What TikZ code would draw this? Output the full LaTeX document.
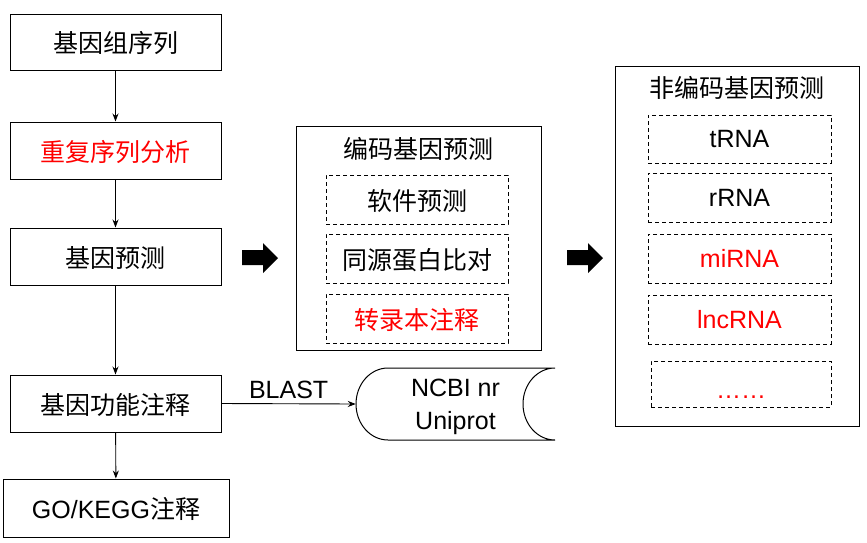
\documentclass[tikz,border=0pt]{standalone}
\usepackage{fontspec}
\usetikzlibrary{arrows.meta}
\setmainfont{Liberation Sans}
\newfontfamily\cjk{Noto Sans CJK SC}
\begin{document}
\begin{tikzpicture}[x=1pt,y=1pt,
  base/.style={font=\fontsize{25}{29}\selectfont, inner sep=0pt, text depth=0pt},
  solidbox/.style={base, draw, line width=1pt},
  dashbox/.style={base, draw, line width=1pt, dash pattern=on 4pt off 3pt},
  flow/.style={-{Stealth[length=8pt,width=6pt]}, line width=0.9pt},
  bigarrow/.style={fill=black}]
\useasboundingbox (0,0) rectangle (867,-542);
% left column
\node[solidbox, minimum width=211pt, minimum height=56pt] (g1) at (115.5,-42) {\cjk 基因组序列};
\node[solidbox, minimum width=211pt, minimum height=57pt, text=red] (g2) at (115.5,-150.5) {\cjk 重复序列分析};
\node[solidbox, minimum width=211pt, minimum height=57pt] (g3) at (115.5,-256.5) {\cjk 基因预测};
\node[solidbox, minimum width=211pt, minimum height=57pt] (g4) at (115.5,-403.5) {\cjk 基因功能注释};
\node[solidbox, minimum width=226pt, minimum height=58pt] (g5) at (116,-508) {GO/KEGG{\cjk 注释}};
\draw[flow] (g1) -- (g2);
\draw[flow] (g2) -- (g3);
\draw[flow] (g3) -- (g4);
\draw[flow] (g4) -- (g5);
% coding box
\node[draw, line width=1pt, minimum width=245pt, minimum height=224pt, inner sep=0pt] (cod) at (418.5,-238) {};
\node[base] (codt) at (418.5,-148) {\cjk 编码基因预测};
\node[dashbox, minimum width=182pt, minimum height=49pt] (c1) at (417,-199.5) {\cjk 软件预测};
\node[dashbox, minimum width=182pt, minimum height=49pt] (c2) at (417,-258.5) {\cjk 同源蛋白比对};
\node[dashbox, minimum width=182pt, minimum height=49pt, text=red] (c3) at (417,-318.5) {\cjk 转录本注释};
% noncoding box
\node[draw, line width=1pt, minimum width=244pt, minimum height=360pt, inner sep=0pt] (nc) at (737,-246) {};
\node[base] (nct) at (737,-87) {\cjk 非编码基因预测};
\node[dashbox, minimum width=183pt, minimum height=48pt] (n1) at (739.5,-139) {tRNA};
\node[dashbox, minimum width=183pt, minimum height=49pt] (n2) at (739.5,-197.5) {rRNA};
\node[dashbox, minimum width=183pt, minimum height=49pt, text=red] (n3) at (739.5,-258.5) {miRNA};
\node[dashbox, minimum width=183pt, minimum height=49pt, text=red] (n4) at (739.5,-319.5) {lncRNA};
\node[dashbox, minimum width=180pt, minimum height=46pt, text=red] (n5) at (741,-384) {\raisebox{-14pt}{……}};
% big arrows
\fill[bigarrow] (242,-250) -- (263,-250) -- (263,-243) -- (278,-258) -- (263,-273) -- (263,-265) -- (242,-265) -- cycle;
\fill[bigarrow] (567,-250) -- (588,-250) -- (588,-243) -- (603,-258) -- (588,-273) -- (588,-265) -- (567,-265) -- cycle;
% database
\node[base, align=center, minimum width=199pt, minimum height=72pt] (db) at (455.5,-404) {NCBI nr\\[4pt]Uniprot};
\draw[line width=1pt] (555,-368) -- (388,-368) arc[start angle=90, end angle=270, x radius=32, y radius=36] -- (555,-440) arc[start angle=270, end angle=90, x radius=32, y radius=36];
\draw[flow] (g4.east) -- node[base, above=5pt] (bl) {BLAST} (db.west);
\end{tikzpicture}
\end{document}
